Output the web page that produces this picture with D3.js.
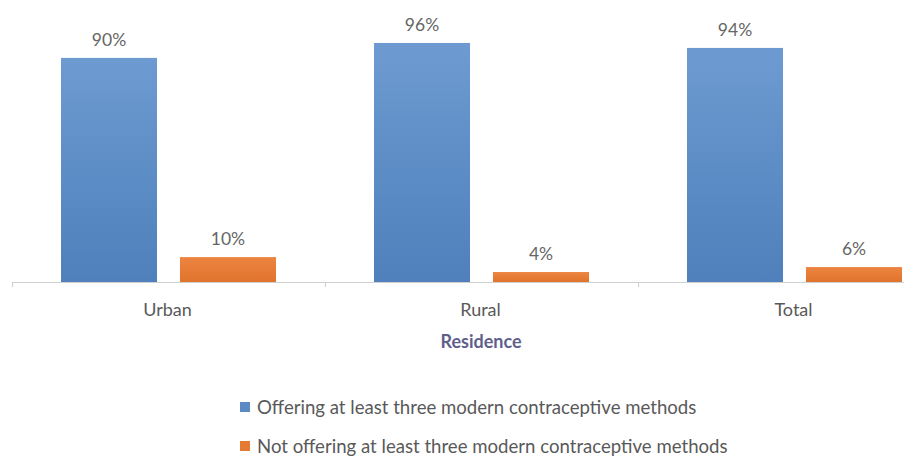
<!DOCTYPE html>
<html>
<head>
<meta charset="utf-8">
<script src="https://cdn.jsdelivr.net/npm/d3@7"></script>
<style>
  html, body { margin: 0; padding: 0; background: #fff; }
  svg { display: block; }
  text { font-family: Lato, "Open Sans", sans-serif; }
</style>
</head>
<body>
<svg id="chart" width="904" height="459"></svg>
<script>
// Share of facilities by residence
const categories = ["Urban", "Rural", "Total"];
const offering = [90, 96, 94];
const notOffering = [10, 4, 6];
const seriesNames = [
  "Offering at least three modern contraceptive methods",
  "Not offering at least three modern contraceptive methods"
];
const seriesColors = ["#5b8ac4", "#e57a32"];
const axisTitle = "Residence";

const svg = d3.select("#chart");
const W = 904, H = 459;
const axisY = 282;

// vertical gradients for the bars
const defs = svg.append("defs");
const g1 = defs.append("linearGradient").attr("id", "blueGrad")
  .attr("x1", 0).attr("y1", 0).attr("x2", 0).attr("y2", 1);
g1.append("stop").attr("offset", "0%").attr("stop-color", "#6d9bd1");
g1.append("stop").attr("offset", "100%").attr("stop-color", "#4f80bb");
const g2 = defs.append("linearGradient").attr("id", "orangeGrad")
  .attr("x1", 0).attr("y1", 0).attr("x2", 0).attr("y2", 1);
g2.append("stop").attr("offset", "0%").attr("stop-color", "#ec8440");
g2.append("stop").attr("offset", "100%").attr("stop-color", "#e0742c");
const fills = ["url(#blueGrad)", "url(#orangeGrad)"];

const x0 = d3.scaleBand().domain(categories).range([12, 12 + 313 * 3]).paddingInner(0).paddingOuter(0);
const x1 = d3.scaleBand().domain([0, 1]).range([49, 264]).paddingInner(0.193);
const y = d3.scaleLinear().domain([0, 100]).range([axisY, axisY - 249]);

const rows = categories.map((c, i) => ({ cat: c, vals: [offering[i], notOffering[i]] }));

// x axis line and ticks
svg.append("line").attr("x1", 12).attr("x2", W).attr("y1", axisY + 0.5).attr("y2", axisY + 0.5)
  .attr("stroke", "#d0d0d0").attr("stroke-width", 1.2);
const tickXs = [0, 1, 2].map(i => x0(categories[i]));
svg.selectAll("line.tick").data(tickXs).enter().append("line")
  .attr("x1", d => d + 0.5).attr("x2", d => d + 0.5)
  .attr("y1", axisY).attr("y2", axisY + 5)
  .attr("stroke", "#d0d0d0").attr("stroke-width", 1.2);

const groups = svg.selectAll("g.grp").data(rows).enter().append("g")
  .attr("transform", d => `translate(${x0(d.cat)},0)`);

groups.selectAll("rect").data(d => d.vals.map((v, k) => ({ v, k }))).enter().append("rect")
  .attr("x", d => x1(d.k))
  .attr("width", x1.bandwidth())
  .attr("y", d => y(d.v))
  .attr("height", d => axisY - y(d.v))
  .attr("fill", d => fills[d.k]);

groups.selectAll("text.val").data(d => d.vals.map((v, k) => ({ v, k }))).enter().append("text")
  .attr("x", d => x1(d.k) + x1.bandwidth() / 2)
  .attr("y", d => y(d.v) - 12)
  .attr("text-anchor", "middle")
  .attr("font-size", 17.5)
  .attr("fill", "#666")
  .text(d => d.v + "%");

// category labels
groups.append("text")
  .attr("x", 313 / 2 - 1)
  .attr("y", 316)
  .attr("text-anchor", "middle")
  .attr("font-size", 18)
  .attr("fill", "#595959")
  .text(d => d.cat);

// axis title
svg.append("text")
  .attr("x", 481).attr("y", 348)
  .attr("text-anchor", "middle")
  .attr("font-size", 18).attr("font-weight", "bold")
  .attr("fill", "#5f5f8c")
  .text(axisTitle);

// legend
const legend = svg.selectAll("g.leg").data(seriesNames).enter().append("g")
  .attr("transform", (d, i) => `translate(240,${402 + i * 39})`);
legend.append("rect").attr("width", 10).attr("height", 10)
  .attr("fill", (d, i) => seriesColors[i]);
legend.append("text").attr("x", 17).attr("y", 12)
  .attr("font-size", 18.6).attr("fill", "#595959")
  .text(d => d);
</script>
</body>
</html>
